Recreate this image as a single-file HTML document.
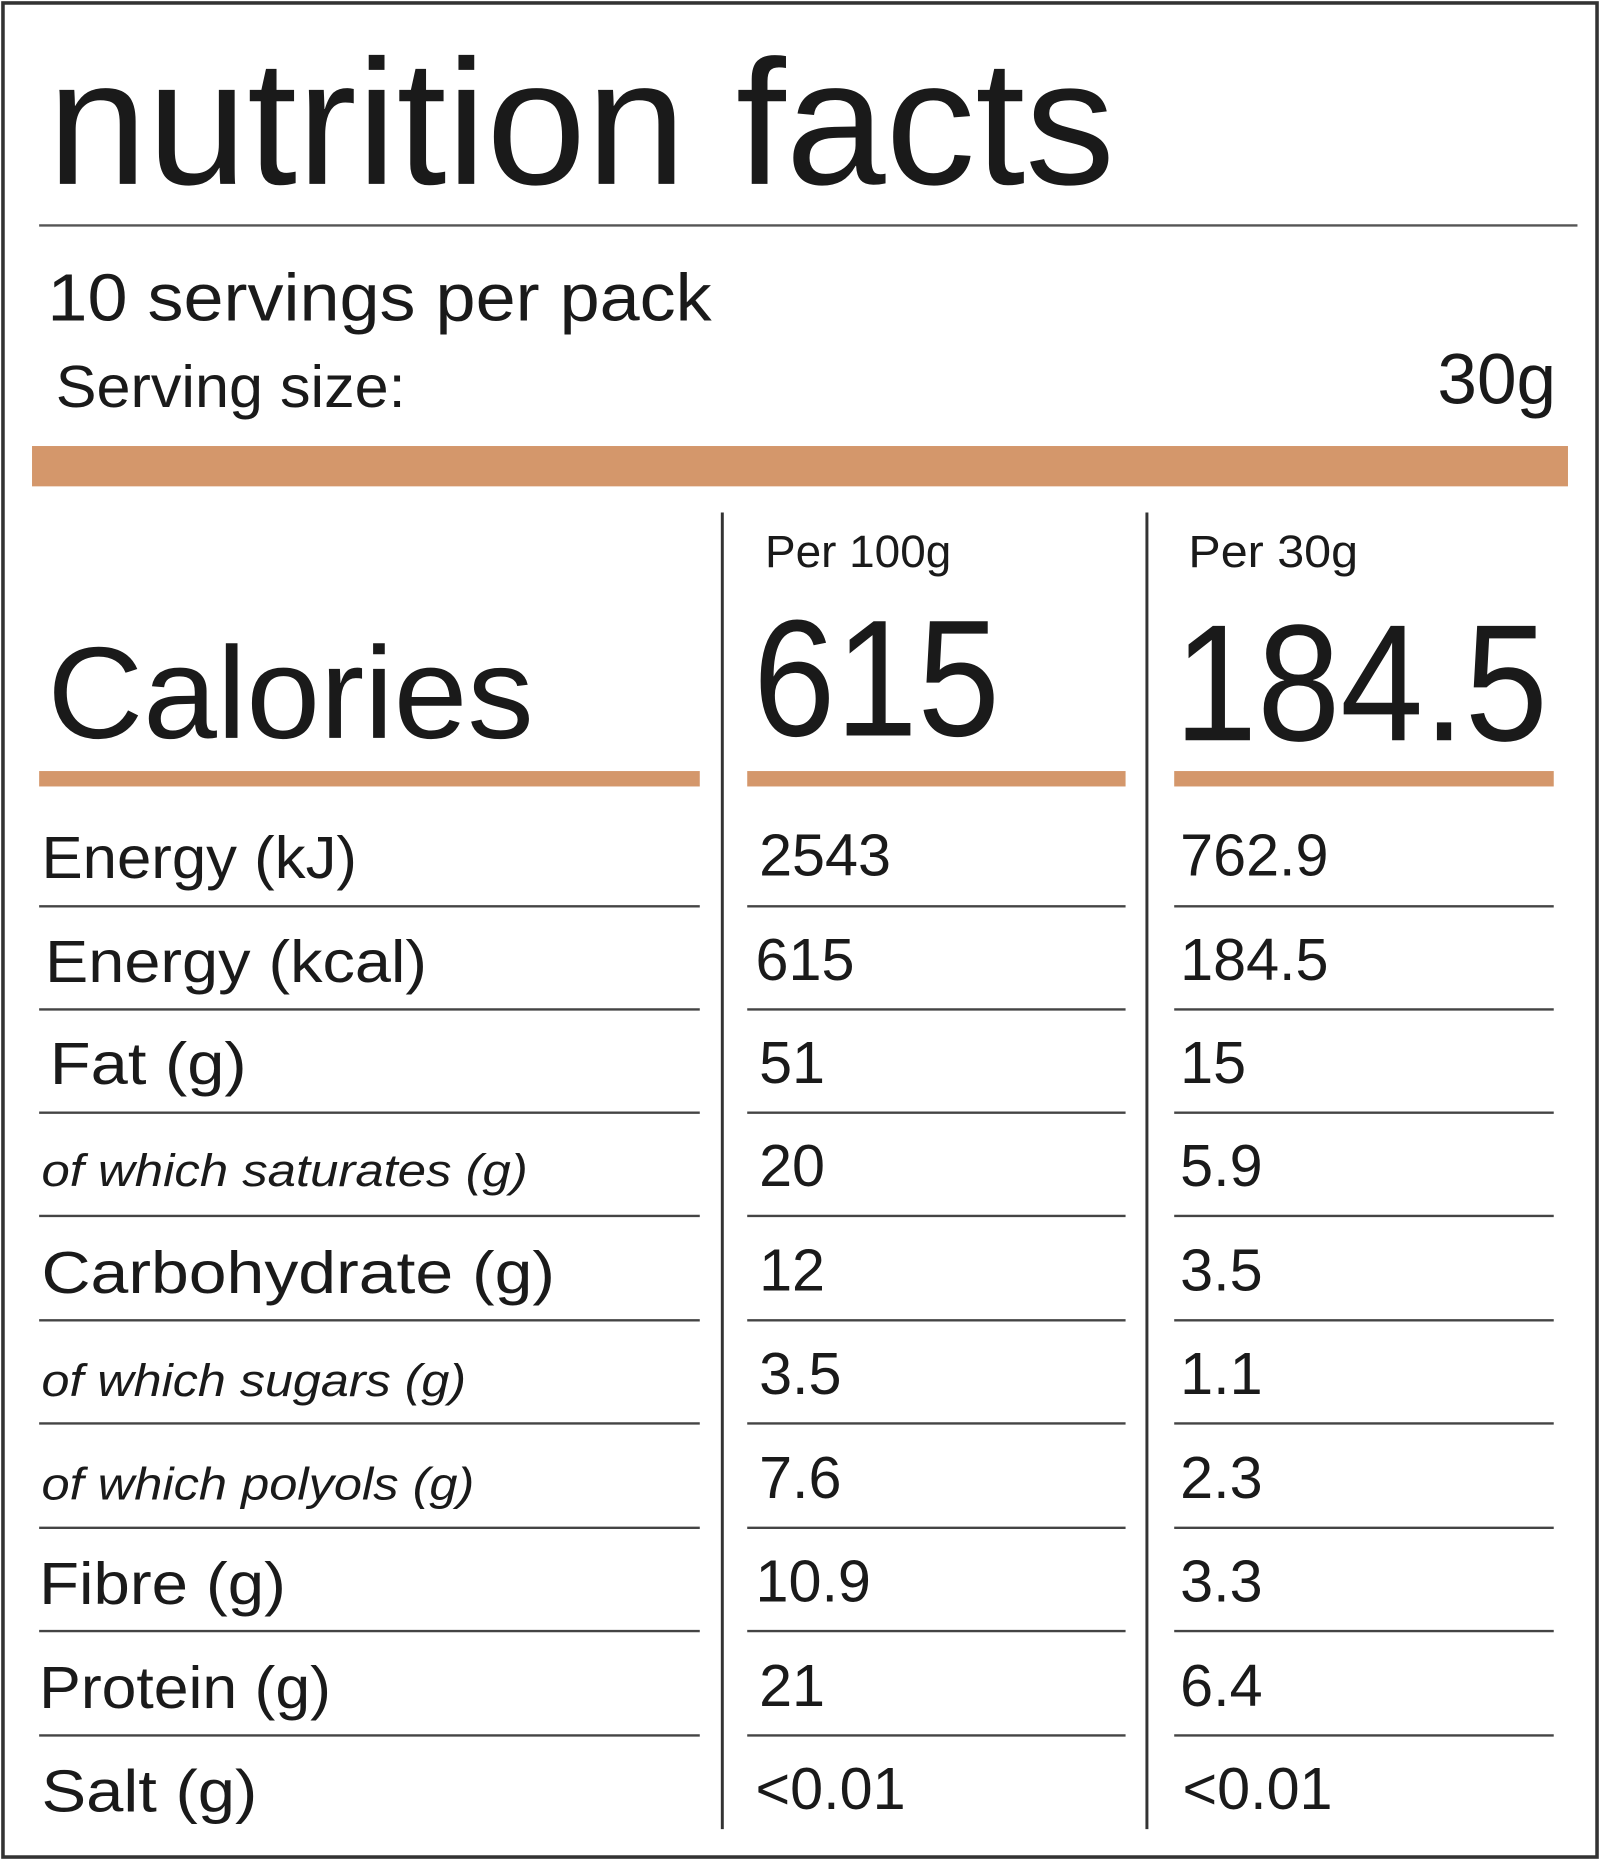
<!DOCTYPE html>
<html><head><meta charset="utf-8"><style>html,body{margin:0;padding:0;background:#fff}svg{display:block}</style></head>
<body>
<svg width="1600" height="1860" viewBox="0 0 1349 1568" preserveAspectRatio="none" xmlns="http://www.w3.org/2000/svg" font-family="Liberation Sans, sans-serif" fill="#1a1a1a">
<rect x="0" y="0" width="1349" height="1568" fill="#fff"/>
<rect x="2.5" y="2.5" width="1344" height="1563" fill="none" stroke="#333" stroke-width="3"/>
<text x="40" y="155" font-size="150" textLength="900" lengthAdjust="spacingAndGlyphs">nutrition facts</text>
<line x1="33" y1="190" x2="1330" y2="190" stroke="#555" stroke-width="2"/>
<text x="40" y="270" font-size="56" textLength="560" lengthAdjust="spacingAndGlyphs">10 servings per pack</text>
<text x="47" y="343" font-size="50" textLength="295" lengthAdjust="spacingAndGlyphs">Serving size:</text>
<text x="1312" y="340" font-size="60" text-anchor="end">30g</text>
<rect x="27" y="376" width="1295" height="34" fill="#d4976b"/>
<line x1="609" y1="432" x2="609" y2="1542" stroke="#333" stroke-width="2.5"/>
<line x1="967" y1="432" x2="967" y2="1542" stroke="#333" stroke-width="2.5"/>
<text x="645" y="478" font-size="38" textLength="157" lengthAdjust="spacingAndGlyphs">Per 100g</text>
<text x="1002" y="478" font-size="38" textLength="143" lengthAdjust="spacingAndGlyphs">Per 30g</text>
<text x="40" y="622" font-size="110" textLength="410" lengthAdjust="spacingAndGlyphs">Calories</text>
<text x="635" y="620" font-size="140" textLength="208" lengthAdjust="spacingAndGlyphs">615</text>
<text x="990" y="624" font-size="140" textLength="315" lengthAdjust="spacingAndGlyphs">184.5</text>
<rect x="33" y="650" width="557" height="13" fill="#d4976b"/>
<rect x="630" y="650" width="319" height="13" fill="#d4976b"/>
<rect x="990" y="650" width="320" height="13" fill="#d4976b"/>
<g stroke="#444" stroke-width="2">
<line x1="33" y1="764" x2="590" y2="764"/><line x1="630" y1="764" x2="949" y2="764"/><line x1="990" y1="764" x2="1310" y2="764"/>
<line x1="33" y1="851" x2="590" y2="851"/><line x1="630" y1="851" x2="949" y2="851"/><line x1="990" y1="851" x2="1310" y2="851"/>
<line x1="33" y1="938" x2="590" y2="938"/><line x1="630" y1="938" x2="949" y2="938"/><line x1="990" y1="938" x2="1310" y2="938"/>
<line x1="33" y1="1025" x2="590" y2="1025"/><line x1="630" y1="1025" x2="949" y2="1025"/><line x1="990" y1="1025" x2="1310" y2="1025"/>
<line x1="33" y1="1113" x2="590" y2="1113"/><line x1="630" y1="1113" x2="949" y2="1113"/><line x1="990" y1="1113" x2="1310" y2="1113"/>
<line x1="33" y1="1200" x2="590" y2="1200"/><line x1="630" y1="1200" x2="949" y2="1200"/><line x1="990" y1="1200" x2="1310" y2="1200"/>
<line x1="33" y1="1288" x2="590" y2="1288"/><line x1="630" y1="1288" x2="949" y2="1288"/><line x1="990" y1="1288" x2="1310" y2="1288"/>
<line x1="33" y1="1375" x2="590" y2="1375"/><line x1="630" y1="1375" x2="949" y2="1375"/><line x1="990" y1="1375" x2="1310" y2="1375"/>
<line x1="33" y1="1463" x2="590" y2="1463"/><line x1="630" y1="1463" x2="949" y2="1463"/><line x1="990" y1="1463" x2="1310" y2="1463"/>
</g>
<g font-size="50">
<text x="35" y="740" textLength="266" lengthAdjust="spacingAndGlyphs">Energy (kJ)</text>
<text x="38" y="828" textLength="322" lengthAdjust="spacingAndGlyphs">Energy (kcal)</text>
<text x="42" y="914" textLength="166" lengthAdjust="spacingAndGlyphs">Fat (g)</text>
<text x="35" y="1000" font-size="38" font-style="italic" textLength="410" lengthAdjust="spacingAndGlyphs">of which saturates (g)</text>
<text x="35" y="1090" textLength="433" lengthAdjust="spacingAndGlyphs">Carbohydrate (g)</text>
<text x="35" y="1177" font-size="38" font-style="italic" textLength="358" lengthAdjust="spacingAndGlyphs">of which sugars (g)</text>
<text x="35" y="1264" font-size="38" font-style="italic" textLength="365" lengthAdjust="spacingAndGlyphs">of which polyols (g)</text>
<text x="33" y="1352" textLength="208" lengthAdjust="spacingAndGlyphs">Fibre (g)</text>
<text x="33" y="1440" textLength="246" lengthAdjust="spacingAndGlyphs">Protein (g)</text>
<text x="35" y="1527" textLength="182" lengthAdjust="spacingAndGlyphs">Salt (g)</text>
<text x="640" y="738">2543</text><text x="995" y="738">762.9</text>
<text x="637" y="826">615</text><text x="995" y="826">184.5</text>
<text x="640" y="913">51</text><text x="995" y="913">15</text>
<text x="640" y="1000">20</text><text x="995" y="1000">5.9</text>
<text x="640" y="1088">12</text><text x="995" y="1088">3.5</text>
<text x="640" y="1175">3.5</text><text x="995" y="1175">1.1</text>
<text x="640" y="1263">7.6</text><text x="995" y="1263">2.3</text>
<text x="637" y="1350">10.9</text><text x="995" y="1350">3.3</text>
<text x="640" y="1438">21</text><text x="995" y="1438">6.4</text>
<text x="637" y="1525">&lt;0.01</text><text x="997" y="1525">&lt;0.01</text>
</g>
</svg>
</body></html>
